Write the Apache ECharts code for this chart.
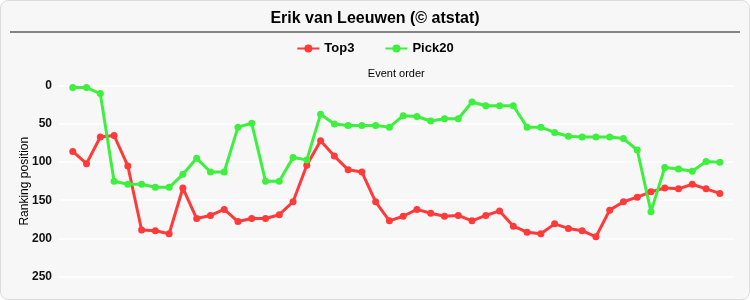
<!DOCTYPE html>
<html>
<head>
<meta charset="utf-8">
<script src="https://cdn.jsdelivr.net/npm/echarts@6/dist/echarts.min.js"></script>
<style>
html,body{margin:0;padding:0;background:#ffffff;}
#wrap{position:absolute;left:0;top:0;width:748px;height:298px;border:1px solid #dcdcdc;border-radius:8px;background:#f7f7f7;overflow:hidden;}
#chart{width:750px;height:300px;position:absolute;left:-1px;top:-1px;}
</style>
</head>
<body>
<div id="wrap"><div id="chart"></div></div>
<script>
var titleText = 'Erik van Leeuwen (© atstat)';
var xName = 'Event order';
var yName = 'Ranking position';
var events = [];
for (var i = 1; i <= 48; i++) events.push(i);
var top3 = [86,102,67,65,105,189,190,194,134,174,170,162,178,174,174,169,152,104,72,92,110,113,152,177,171,162,167,171,170,177,170,164,184,192,194,181,187,190,198,163,152,146,139,134,135,129,135,141];
var pick20 = [2,2,10,125,129,129,133,133,116,95,113,113,54,49,125,125,94,97,37,50,52,52,52,54,39,40,46,43,43,21,26,26,26,54,54,61,66,67,67,67,69,84,165,107,109,112,99,100];
var yTicks = [0,50,100,150,200,250];

function pairs(arr){ return arr.map(function(v,i){ return [events[i], v]; }); }

var chart = echarts.init(document.getElementById('chart'));
var font = 'Liberation Sans, Arial, sans-serif';
chart.setOption({
  backgroundColor: 'transparent',
  animation: false,
  textStyle: {fontFamily: font},
  title: {
    text: titleText, left: 'center', top: 6,
    textStyle: {fontSize: 16, fontWeight: 'bold', color: '#000', fontFamily: font}
  },
  graphic: [{
    type: 'line', shape: {x1: 10, y1: 32, x2: 740, y2: 32},
    style: {stroke: '#111', lineWidth: 1.2}
  }],
  legend: {
    top: 37, left: 'center', itemGap: 30, itemWidth: 22, itemHeight: 10,
    textStyle: {fontSize: 13, fontWeight: 'bold', color: '#000', fontFamily: font},
    data: ['Top3', 'Pick20']
  },
  grid: {left: 59, right: 16.4, top: 86, bottom: 23.6},
  xAxis: {
    type: 'value', min: 0, max: events.length + 1, position: 'top',
    name: xName, nameLocation: 'middle', nameGap: 7,
    nameTextStyle: {fontSize: 11, color: '#000', fontFamily: font},
    axisLine: {show: false}, axisTick: {show: false}, axisLabel: {show: false},
    splitLine: {show: false}
  },
  yAxis: {
    type: 'value', inverse: true, min: yTicks[0], max: yTicks[yTicks.length-1], interval: 50,
    name: yName, nameLocation: 'middle', nameGap: 28, nameRotate: 90, nameMoveOverlap: false,
    nameTextStyle: {fontSize: 12, color: '#000', fontFamily: font},
    axisLine: {show: false}, axisTick: {show: false},
    axisLabel: {fontSize: 12, fontWeight: 'bold', color: '#111', margin: 7, fontFamily: font},
    splitLine: {show: true, lineStyle: {color: '#ffffff', width: 1.5}}
  },
  series: [
    {name: 'Top3', type: 'line', data: pairs(top3), symbol: 'circle', symbolSize: 7,
     lineStyle: {width: 3, color: '#ff3a3a'}, itemStyle: {color: '#ff3a3a'}},
    {name: 'Pick20', type: 'line', data: pairs(pick20), symbol: 'circle', symbolSize: 7,
     lineStyle: {width: 3, color: '#3ef03e'}, itemStyle: {color: '#3ef03e'}}
  ]
});
</script>
</body>
</html>
